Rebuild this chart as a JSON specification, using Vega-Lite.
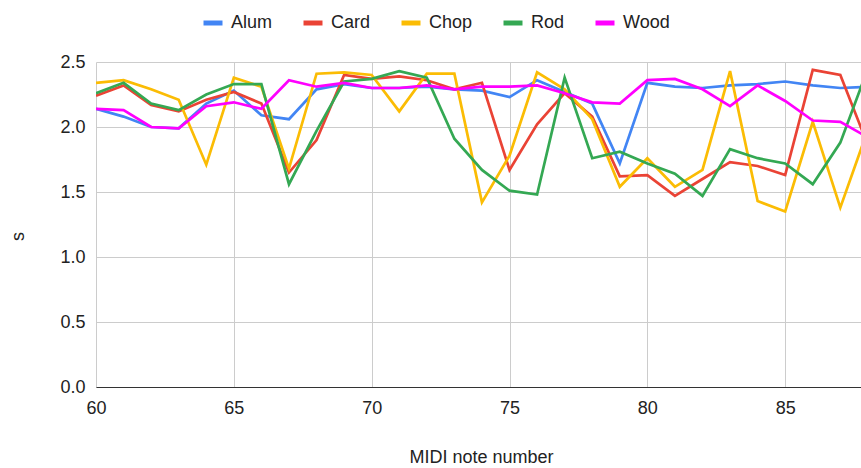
{
  "$schema": "https://vega.github.io/schema/vega-lite/v6.json",
  "width": 765,
  "height": 325,
  "autosize": {"type": "none"},
  "padding": {"left": 96, "top": 62, "right": 0, "bottom": 81},
  "background": "#ffffff",
  "config": {
    "font": "Liberation Sans",
    "view": {"stroke": null},
    "axis": {
      "labelFont": "Liberation Sans",
      "titleFont": "Liberation Sans",
      "labelFontSize": 18,
      "titleFontSize": 18,
      "labelColor": "#222222",
      "titleColor": "#222222",
      "titleFontWeight": "normal",
      "gridColor": "#cccccc",
      "gridWidth": 1,
      "ticks": false
    },
    "legend": {
      "labelFont": "Liberation Sans",
      "labelFontSize": 18,
      "labelColor": "#222222"
    }
  },
  "data": {
    "values": [
      {"note": 60, "series": "Alum", "s": 2.14}, {"note": 61, "series": "Alum", "s": 2.08}, {"note": 62, "series": "Alum", "s": 2.00}, {"note": 63, "series": "Alum", "s": 1.99}, {"note": 64, "series": "Alum", "s": 2.18}, {"note": 65, "series": "Alum", "s": 2.28}, {"note": 66, "series": "Alum", "s": 2.09}, {"note": 67, "series": "Alum", "s": 2.06}, {"note": 68, "series": "Alum", "s": 2.29}, {"note": 69, "series": "Alum", "s": 2.33}, {"note": 70, "series": "Alum", "s": 2.30}, {"note": 71, "series": "Alum", "s": 2.30}, {"note": 72, "series": "Alum", "s": 2.31}, {"note": 73, "series": "Alum", "s": 2.29}, {"note": 74, "series": "Alum", "s": 2.28}, {"note": 75, "series": "Alum", "s": 2.23}, {"note": 76, "series": "Alum", "s": 2.36}, {"note": 77, "series": "Alum", "s": 2.27}, {"note": 78, "series": "Alum", "s": 2.18}, {"note": 79, "series": "Alum", "s": 1.72}, {"note": 80, "series": "Alum", "s": 2.34}, {"note": 81, "series": "Alum", "s": 2.31}, {"note": 82, "series": "Alum", "s": 2.30}, {"note": 83, "series": "Alum", "s": 2.32}, {"note": 84, "series": "Alum", "s": 2.33}, {"note": 85, "series": "Alum", "s": 2.35}, {"note": 86, "series": "Alum", "s": 2.32}, {"note": 87, "series": "Alum", "s": 2.30}, {"note": 88, "series": "Alum", "s": 2.31},
      {"note": 60, "series": "Card", "s": 2.24}, {"note": 61, "series": "Card", "s": 2.32}, {"note": 62, "series": "Card", "s": 2.17}, {"note": 63, "series": "Card", "s": 2.12}, {"note": 64, "series": "Card", "s": 2.21}, {"note": 65, "series": "Card", "s": 2.27}, {"note": 66, "series": "Card", "s": 2.18}, {"note": 67, "series": "Card", "s": 1.65}, {"note": 68, "series": "Card", "s": 1.90}, {"note": 69, "series": "Card", "s": 2.40}, {"note": 70, "series": "Card", "s": 2.37}, {"note": 71, "series": "Card", "s": 2.39}, {"note": 72, "series": "Card", "s": 2.36}, {"note": 73, "series": "Card", "s": 2.29}, {"note": 74, "series": "Card", "s": 2.34}, {"note": 75, "series": "Card", "s": 1.67}, {"note": 76, "series": "Card", "s": 2.02}, {"note": 77, "series": "Card", "s": 2.26}, {"note": 78, "series": "Card", "s": 2.08}, {"note": 79, "series": "Card", "s": 1.62}, {"note": 80, "series": "Card", "s": 1.63}, {"note": 81, "series": "Card", "s": 1.47}, {"note": 82, "series": "Card", "s": 1.60}, {"note": 83, "series": "Card", "s": 1.73}, {"note": 84, "series": "Card", "s": 1.70}, {"note": 85, "series": "Card", "s": 1.63}, {"note": 86, "series": "Card", "s": 2.44}, {"note": 87, "series": "Card", "s": 2.40}, {"note": 88, "series": "Card", "s": 1.86},
      {"note": 60, "series": "Chop", "s": 2.34}, {"note": 61, "series": "Chop", "s": 2.36}, {"note": 62, "series": "Chop", "s": 2.29}, {"note": 63, "series": "Chop", "s": 2.21}, {"note": 64, "series": "Chop", "s": 1.71}, {"note": 65, "series": "Chop", "s": 2.38}, {"note": 66, "series": "Chop", "s": 2.31}, {"note": 67, "series": "Chop", "s": 1.68}, {"note": 68, "series": "Chop", "s": 2.41}, {"note": 69, "series": "Chop", "s": 2.42}, {"note": 70, "series": "Chop", "s": 2.40}, {"note": 71, "series": "Chop", "s": 2.12}, {"note": 72, "series": "Chop", "s": 2.41}, {"note": 73, "series": "Chop", "s": 2.41}, {"note": 74, "series": "Chop", "s": 1.42}, {"note": 75, "series": "Chop", "s": 1.78}, {"note": 76, "series": "Chop", "s": 2.42}, {"note": 77, "series": "Chop", "s": 2.29}, {"note": 78, "series": "Chop", "s": 2.06}, {"note": 79, "series": "Chop", "s": 1.54}, {"note": 80, "series": "Chop", "s": 1.76}, {"note": 81, "series": "Chop", "s": 1.54}, {"note": 82, "series": "Chop", "s": 1.67}, {"note": 83, "series": "Chop", "s": 2.43}, {"note": 84, "series": "Chop", "s": 1.43}, {"note": 85, "series": "Chop", "s": 1.35}, {"note": 86, "series": "Chop", "s": 2.04}, {"note": 87, "series": "Chop", "s": 1.38}, {"note": 88, "series": "Chop", "s": 1.98},
      {"note": 60, "series": "Rod", "s": 2.26}, {"note": 61, "series": "Rod", "s": 2.34}, {"note": 62, "series": "Rod", "s": 2.18}, {"note": 63, "series": "Rod", "s": 2.13}, {"note": 64, "series": "Rod", "s": 2.25}, {"note": 65, "series": "Rod", "s": 2.33}, {"note": 66, "series": "Rod", "s": 2.33}, {"note": 67, "series": "Rod", "s": 1.56}, {"note": 68, "series": "Rod", "s": 1.97}, {"note": 69, "series": "Rod", "s": 2.35}, {"note": 70, "series": "Rod", "s": 2.37}, {"note": 71, "series": "Rod", "s": 2.43}, {"note": 72, "series": "Rod", "s": 2.38}, {"note": 73, "series": "Rod", "s": 1.91}, {"note": 74, "series": "Rod", "s": 1.67}, {"note": 75, "series": "Rod", "s": 1.51}, {"note": 76, "series": "Rod", "s": 1.48}, {"note": 77, "series": "Rod", "s": 2.38}, {"note": 78, "series": "Rod", "s": 1.76}, {"note": 79, "series": "Rod", "s": 1.81}, {"note": 80, "series": "Rod", "s": 1.72}, {"note": 81, "series": "Rod", "s": 1.64}, {"note": 82, "series": "Rod", "s": 1.47}, {"note": 83, "series": "Rod", "s": 1.83}, {"note": 84, "series": "Rod", "s": 1.76}, {"note": 85, "series": "Rod", "s": 1.72}, {"note": 86, "series": "Rod", "s": 1.56}, {"note": 87, "series": "Rod", "s": 1.88}, {"note": 88, "series": "Rod", "s": 2.45},
      {"note": 60, "series": "Wood", "s": 2.14}, {"note": 61, "series": "Wood", "s": 2.13}, {"note": 62, "series": "Wood", "s": 2.00}, {"note": 63, "series": "Wood", "s": 1.99}, {"note": 64, "series": "Wood", "s": 2.16}, {"note": 65, "series": "Wood", "s": 2.19}, {"note": 66, "series": "Wood", "s": 2.14}, {"note": 67, "series": "Wood", "s": 2.36}, {"note": 68, "series": "Wood", "s": 2.31}, {"note": 69, "series": "Wood", "s": 2.34}, {"note": 70, "series": "Wood", "s": 2.30}, {"note": 71, "series": "Wood", "s": 2.30}, {"note": 72, "series": "Wood", "s": 2.32}, {"note": 73, "series": "Wood", "s": 2.29}, {"note": 74, "series": "Wood", "s": 2.31}, {"note": 75, "series": "Wood", "s": 2.31}, {"note": 76, "series": "Wood", "s": 2.32}, {"note": 77, "series": "Wood", "s": 2.26}, {"note": 78, "series": "Wood", "s": 2.19}, {"note": 79, "series": "Wood", "s": 2.18}, {"note": 80, "series": "Wood", "s": 2.36}, {"note": 81, "series": "Wood", "s": 2.37}, {"note": 82, "series": "Wood", "s": 2.29}, {"note": 83, "series": "Wood", "s": 2.16}, {"note": 84, "series": "Wood", "s": 2.32}, {"note": 85, "series": "Wood", "s": 2.20}, {"note": 86, "series": "Wood", "s": 2.05}, {"note": 87, "series": "Wood", "s": 2.04}, {"note": 88, "series": "Wood", "s": 1.92}
    ]
  },
  "mark": {"type": "line", "strokeWidth": 2.7, "clip": true, "interpolate": "linear"},
  "encoding": {
    "x": {
      "field": "note",
      "type": "quantitative",
      "scale": {"domain": [60, 87.75], "nice": false, "zero": false},
      "axis": {
        "title": "MIDI note number",
        "values": [60, 65, 70, 75, 80, 85],
        "grid": true,
        "domain": true,
        "domainColor": "#333333",
        "domainWidth": 1,
        "labelPadding": 12,
        "labelFlush": false,
        "titleX": 385,
        "titleY": 70,
        "titleBaseline": "middle"
      }
    },
    "y": {
      "field": "s",
      "type": "quantitative",
      "scale": {"domain": [0, 2.5], "nice": false},
      "axis": {
        "title": "s",
        "values": [0, 0.5, 1, 1.5, 2, 2.5],
        "format": ".1f",
        "grid": true,
        "domain": false,
        "labelPadding": 11,
        "titleAngle": -90,
        "titleAlign": "center",
        "titleBaseline": "middle",
        "titleX": -78,
        "titleY": 174
      }
    },
    "color": {
      "field": "series",
      "type": "nominal",
      "scale": {
        "domain": ["Alum", "Card", "Chop", "Rod", "Wood"],
        "range": ["#4285f4", "#ea4335", "#fbbc04", "#34a853", "#ff00ff"]
      },
      "legend": {
        "title": null,
        "orient": "none",
        "direction": "horizontal",
        "legendX": 105,
        "legendY": -51,
        "symbolType": "stroke",
        "symbolSize": 361,
        "symbolStrokeWidth": 5,
        "labelOffset": 6,
        "columnPadding": 20
      }
    }
  }
}
